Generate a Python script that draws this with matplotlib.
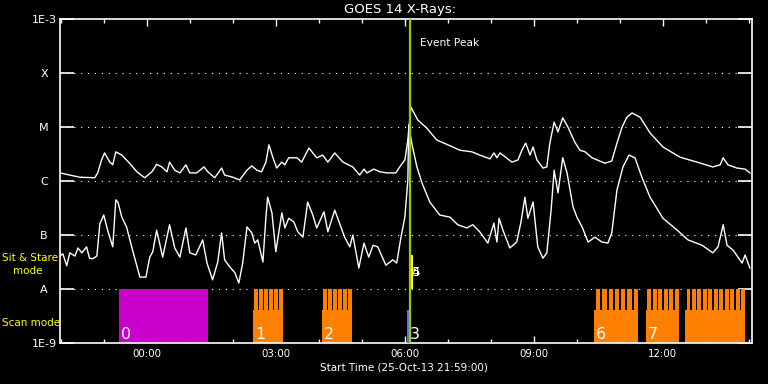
import matplotlib.pyplot as plt
import numpy as np

# GOES 14 X-ray flux, time in hours from 26-Oct-13 00:00, log10 flux (W m^-2)
long_t = [-2.02, -1.79, -1.56, -1.21, -1.14, -1.05, -0.98, -0.86, -0.79, -0.72,
          -0.58, -0.40, -0.23, -0.05, 0.12, 0.23, 0.35, 0.47, 0.53, 0.65,
          0.77, 0.91, 1.00, 1.16, 1.33, 1.42, 1.58, 1.74, 1.81, 2.00,
          2.16, 2.33, 2.44, 2.56, 2.67, 2.77, 2.84, 2.93, 3.02, 3.14,
          3.21, 3.30, 3.49, 3.60, 3.77, 3.95, 4.09, 4.21, 4.37, 4.56,
          4.79, 4.95, 5.05, 5.12, 5.28, 5.42, 5.58, 5.79, 5.88, 6.00,
          6.07, 6.14, 6.30, 6.51, 6.74, 7.00, 7.28, 7.56, 7.74, 7.98,
          8.07, 8.14, 8.21, 8.49, 8.63, 8.72, 8.81, 8.91, 8.98, 9.07,
          9.21, 9.30, 9.37, 9.47, 9.56, 9.67, 9.79, 9.95, 10.07, 10.19,
          10.35, 10.47, 10.65, 10.81, 10.93, 11.05, 11.16, 11.28, 11.47, 11.70,
          12.00, 12.40, 12.79, 13.16, 13.33, 13.40, 13.51, 13.72, 13.91, 14.02]
long_logf = [-5.85, -5.89, -5.93, -5.94, -5.85, -5.61, -5.48, -5.65, -5.70, -5.46,
             -5.52, -5.67, -5.83, -5.94, -5.83, -5.69, -5.74, -5.83, -5.65, -5.80,
             -5.85, -5.70, -5.85, -5.85, -5.74, -5.83, -5.94, -5.76, -5.89, -5.93,
             -5.98, -5.80, -5.72, -5.80, -5.83, -5.65, -5.33, -5.56, -5.76, -5.65,
             -5.70, -5.57, -5.57, -5.65, -5.39, -5.57, -5.52, -5.65, -5.48, -5.65,
             -5.74, -5.89, -5.78, -5.85, -5.78, -5.83, -5.85, -5.85, -5.74, -5.61,
             -5.24, -4.63, -4.87, -5.02, -5.24, -5.33, -5.43, -5.46, -5.52, -5.59,
             -5.48, -5.57, -5.48, -5.65, -5.61, -5.43, -5.30, -5.52, -5.37, -5.61,
             -5.76, -5.74, -5.30, -4.91, -5.09, -4.83, -5.00, -5.28, -5.43, -5.46,
             -5.57, -5.61, -5.67, -5.63, -5.30, -5.00, -4.82, -4.74, -4.82, -5.11,
             -5.37, -5.56, -5.65, -5.74, -5.70, -5.57, -5.70, -5.76, -5.78, -5.85]

short_t = [-2.02, -1.95, -1.86, -1.79, -1.67, -1.60, -1.51, -1.40, -1.33, -1.26,
           -1.16, -1.09, -1.00, -0.91, -0.79, -0.72, -0.67, -0.58, -0.47, -0.35,
           -0.16, -0.02, 0.07, 0.14, 0.23, 0.37, 0.53, 0.65, 0.77, 0.91,
           1.00, 1.14, 1.30, 1.40, 1.53, 1.65, 1.74, 1.81, 1.93, 2.05,
           2.14, 2.23, 2.33, 2.44, 2.51, 2.58, 2.70, 2.77, 2.81, 2.91,
           3.00, 3.14, 3.21, 3.30, 3.42, 3.51, 3.63, 3.74, 3.86, 3.95,
           4.12, 4.21, 4.37, 4.60, 4.72, 4.79, 4.93, 5.05, 5.16, 5.26,
           5.37, 5.56, 5.72, 5.81, 5.91, 6.00, 6.07, 6.09, 6.16, 6.28,
           6.40, 6.58, 6.81, 7.05, 7.23, 7.44, 7.58, 7.74, 7.93, 8.07,
           8.14, 8.19, 8.28, 8.44, 8.60, 8.70, 8.79, 8.86, 8.98, 9.09,
           9.21, 9.30, 9.40, 9.47, 9.56, 9.67, 9.77, 9.91, 10.00, 10.12,
           10.26, 10.42, 10.58, 10.72, 10.81, 10.93, 11.07, 11.21, 11.35, 11.51,
           11.70, 12.00, 12.33, 12.58, 12.91, 13.16, 13.28, 13.40, 13.49, 13.63,
           13.84, 13.91, 14.02]
short_logf = [-7.39, -7.35, -7.57, -7.33, -7.39, -7.24, -7.33, -7.22, -7.43, -7.44,
              -7.39, -6.79, -6.63, -6.91, -7.22, -6.35, -6.39, -6.67, -6.85, -7.22,
              -7.78, -7.78, -7.41, -7.31, -6.91, -7.41, -6.81, -7.24, -7.41, -6.87,
              -7.33, -7.37, -7.09, -7.52, -7.83, -7.50, -6.96, -7.46, -7.59, -7.70,
              -7.89, -7.52, -6.85, -6.96, -7.15, -7.09, -7.50, -6.67, -6.30, -6.59,
              -7.31, -6.59, -6.87, -6.69, -6.76, -6.94, -7.04, -6.39, -6.63, -6.87,
              -6.57, -6.94, -6.54, -7.04, -7.22, -7.00, -7.61, -7.15, -7.41, -7.19,
              -7.22, -7.56, -7.46, -7.52, -7.04, -6.67, -5.98, -4.96, -5.30, -5.74,
              -6.04, -6.39, -6.63, -6.67, -6.81, -6.87, -6.81, -6.94, -7.15, -6.78,
              -7.13, -6.69, -6.91, -7.24, -7.13, -6.76, -6.30, -6.69, -6.39, -7.22,
              -7.43, -7.33, -6.54, -5.80, -6.22, -5.57, -5.85, -6.48, -6.67, -6.85,
              -7.13, -7.04, -7.13, -7.15, -6.96, -6.17, -5.74, -5.52, -5.57, -5.93,
              -6.30, -6.69, -6.91, -7.09, -7.19, -7.33, -7.22, -6.81, -7.19, -7.28,
              -7.52, -7.37, -7.61]

# IRIS observing modes
scan_start = [-0.65, 2.47, 4.07, 6.07, 10.40, 11.60, 12.51]
scan_end = [1.42, 3.16, 4.77, 6.09, 11.42, 12.37, 13.91]
scan_rasters = [1, 6, 6, 1, 7, 6, 11]
scan_kind = ['full', 'comb', 'comb', 'line', 'comb', 'comb', 'comb']
scan_labels = ['0', '1', '2', '3', '6', '7', '']

stare_start = 6.14
stare_end = 6.19
stare_labels = ['4', '5']
event_peak = 6.12

level_vals = [1e-9, 1e-8, 1e-7, 1e-6, 1e-5, 1e-4, 1e-3]
level_labels = ['1E-9', 'A', 'B', 'C', 'M', 'X', '1E-3']
hour_ticks = [0, 3, 6, 9, 12]
hour_labels = ['00:00', '03:00', '06:00', '09:00', '12:00']

W, H = 768, 384
fig = plt.figure(figsize=(W / 100, H / 100), dpi=100, facecolor='black')
ax = fig.add_axes([60 / W, 1 - 343 / H, 692 / W, 324 / H], facecolor='black')
ax.set_yscale('log')
ax.set_xlim(-2.017, 14.07)
ax.set_ylim(1e-9, 1e-3)

# dotted flare-class levels
for lv in level_vals[1:-1]:
    ax.axhline(lv, color='white', lw=0.8, ls=(0, (1, 5.2)), zorder=1)

orange = '#ff8000'
base_top = 10 ** -8.39
for s, e, n, kind, lab in zip(scan_start, scan_end, scan_rasters, scan_kind, scan_labels):
    if kind == 'full':
        ax.bar(s, 1e-8 - 1e-9, bottom=1e-9, width=e - s, align='edge',
               color='#cc00cc', lw=0, zorder=2)
    elif kind == 'line':
        ax.vlines(s, 1e-9, base_top, color='#6a7cff', lw=1.3, zorder=3)
    else:
        # whole block, then black gaps between the rasters above the base
        ax.bar(s, 1e-8 - 1e-9, bottom=1e-9, width=e - s, align='edge',
               color=orange, lw=0, zorder=2)
        per = (e - s) / n
        gaps = s + per * np.arange(n)
        ax.bar(gaps, 1e-8 - base_top, bottom=base_top, width=0.3 * per,
               align='edge', color='black', lw=0, zorder=2.5)
    if lab:
        ax.text(s + 0.05, 10 ** -8.93, lab, color='white', fontsize=11.5,
                va='baseline', ha='left', zorder=5)

# sit & stare
ax.bar(stare_start, 10 ** -7.37 - 1e-8, bottom=1e-8, width=stare_end - stare_start,
       align='edge', color='#ffff00', lw=0, zorder=3)
for lab in stare_labels:
    ax.text(stare_start + 0.02, 10 ** -7.69, lab, color='white', fontsize=9.5,
            va='center', ha='left', zorder=5)

ax.plot(long_t, 10 ** np.array(long_logf), color='white', lw=1.0, zorder=4)
ax.plot(short_t, 10 ** np.array(short_logf), color='white', lw=1.0, zorder=4)

ax.axvline(event_peak, color='#99cc00', lw=1.6, zorder=6)
ax.text(event_peak + 0.23, 10 ** -3.44, 'Event Peak', color='white', fontsize=7.7,
        va='center', ha='left')

# axes styling
for sp in ax.spines.values():
    sp.set_color('white')
    sp.set_linewidth(1.2)
ax.set_yticks(level_vals, labels=level_labels)
ax.yaxis.set_minor_locator(plt.NullLocator())
ax.tick_params(axis='y', which='major', direction='in', length=10, width=1.2,
               colors='white', left=True, right=True, labelsize=8, pad=11.5)
for lbl in ax.get_yticklabels():
    lbl.set_horizontalalignment('center')
ax.set_xticks(hour_ticks, labels=hour_labels)
ax.set_xticks(np.arange(-2, 15), minor=True)
ax.tick_params(axis='x', which='major', direction='in', length=5, width=1,
               colors='white', top=True, bottom=True, labelsize=7.4, pad=4)
ax.tick_params(axis='x', which='minor', direction='in', length=3, width=1,
               colors='white', top=True, bottom=True)

fig.text(400 / W, 1 - 9.5 / H, 'GOES 14 X-Rays:', color='white', fontsize=9.5,
         ha='center', va='center')
fig.text(404 / W, 1 - 368 / H, 'Start Time (25-Oct-13 21:59:00)', color='white',
         fontsize=7.5, ha='center', va='center')
fig.text(2 / W, 1 - 258 / H, 'Sit & Stare', color='#ffff00', fontsize=7.5,
         ha='left', va='center')
fig.text(13 / W, 1 - 271 / H, 'mode', color='#ffff00', fontsize=7.5,
         ha='left', va='center')
fig.text(2 / W, 1 - 323 / H, 'Scan mode', color='#ffff00', fontsize=7.5,
         ha='left', va='center')

fig.savefig('out.png', dpi=100, facecolor='black')
